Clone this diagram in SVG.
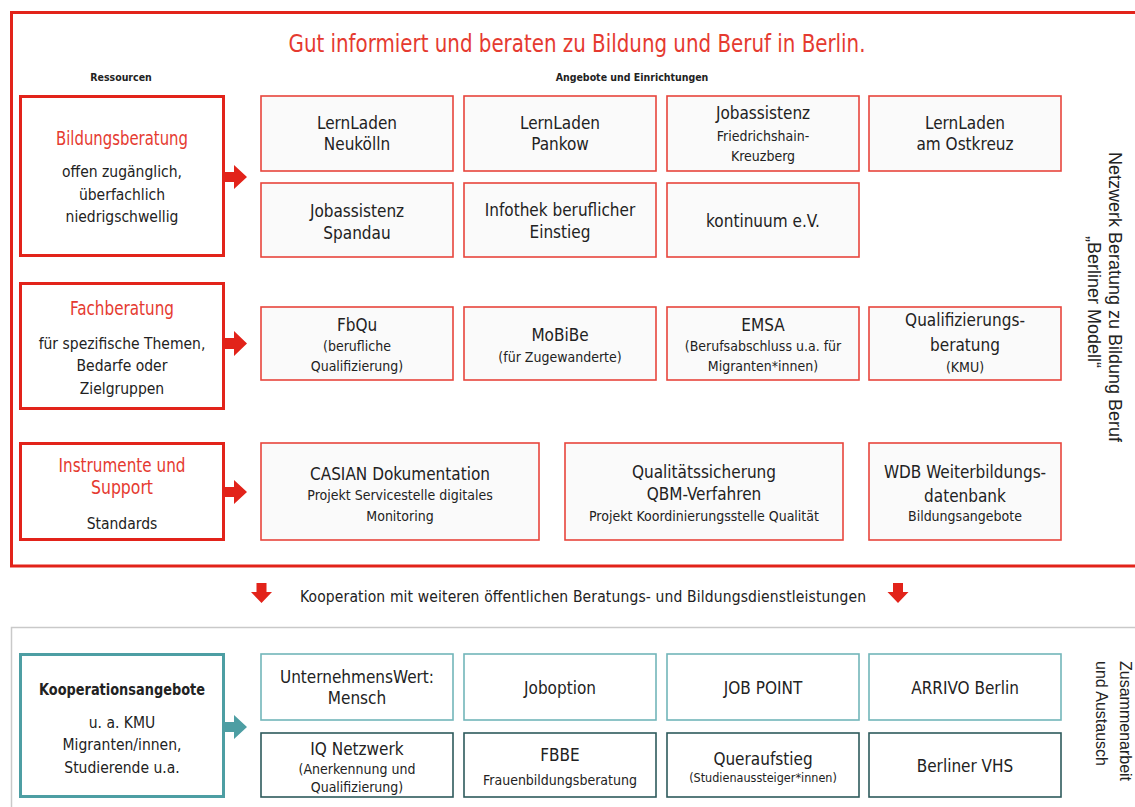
<svg xmlns="http://www.w3.org/2000/svg" width="1135" height="807" viewBox="0 0 1135 807">
<style>
text{font-family:"Liberation Sans Narrow","DejaVu Sans Condensed","Liberation Sans",sans-serif;fill:#222;text-anchor:middle}
.t{font-size:17px}
.s{font-size:14px}
.lt{font-size:19px;fill:#e53a30}
.lb{font-size:15.5px}
.hd{font-size:10.5px;font-weight:bold}
.vt{font-family:"Liberation Sans",Arial,sans-serif;font-size:18px;fill:#222}
.vz{font-family:"Liberation Sans",Arial,sans-serif;font-size:16px;fill:#222;text-anchor:start}
.rb{fill:#fafafa;stroke:#e8453c;stroke-width:1.6}
.lbx{fill:#fff;stroke:#e2231a;stroke-width:3}
.tl{fill:#fff;stroke:#72b6ba;stroke-width:1.6}
.td{fill:#fff;stroke:#2d5a5c;stroke-width:1.6}
.tk{fill:#fff;stroke:#4d9ea3;stroke-width:3}
.ra{fill:#e2231a}
.ta{fill:#4d9ea3}
</style>
<rect width="1135" height="807" fill="#fff"/>
<g id="frames">
<path d="M1140 12.5 H11.5 V566 H1140" fill="none" stroke="#e2231a" stroke-width="3"/>
<path d="M1140 627.5 H11.5 V812" fill="none" stroke="#c9c9c9" stroke-width="1.5"/>
</g>
<g id="title">
<text x="577" y="52" textLength="577" lengthAdjust="spacingAndGlyphs" style="font-size:25px;fill:#e53a30">Gut informiert und beraten zu Bildung und Beruf in Berlin.</text>
<text class="hd" x="121" y="81">Ressourcen</text>
<text class="hd" x="632" y="81">Angebote und Einrichtungen</text>
</g>
<g id="connectors">
<path class="ra" d="M224 172 H234 V165 L247 177 L234 189 V182 H224 Z"/>
<path class="ra" d="M224 338 H234 V331 L247 343.5 L234 356 V349 H224 Z"/>
<path class="ra" d="M224 487 H234 V480 L247 492 L234 504 V497 H224 Z"/>
<path class="ta" d="M224 722 H234 V715 L247 727 L234 739 V732 H224 Z"/>
<path class="ra" d="M256.5 583 H266.5 V592 H272 L261.5 603 L251 592 H256.5 Z"/>
<path class="ra" d="M893 583 H903 V592 H908.5 L898 603 L887.5 592 H893 Z"/>
</g>
<g id="n-bildungsberatung">
<rect class="lbx" x="20.5" y="96.5" width="203" height="159"/>
<text class="lt" x="122" y="145" textLength="132" lengthAdjust="spacingAndGlyphs">Bildungsberatung</text>
<text class="lb" x="122" y="177">offen zugänglich,</text>
<text class="lb" x="122" y="200">überfachlich</text>
<text class="lb" x="122" y="222">niedrigschwellig</text>
</g>
<g id="n-fachberatung">
<rect class="lbx" x="20.5" y="283.5" width="203" height="125"/>
<text class="lt" x="122" y="315" textLength="104" lengthAdjust="spacingAndGlyphs">Fachberatung</text>
<text class="lb" x="122" y="349">für spezifische  Themen,</text>
<text class="lb" x="122" y="371">Bedarfe oder</text>
<text class="lb" x="122" y="394">Zielgruppen</text>
</g>
<g id="n-instrumente">
<rect class="lbx" x="20.5" y="443.5" width="203" height="96"/>
<text class="lt" x="122" y="472" textLength="127" lengthAdjust="spacingAndGlyphs">Instrumente und</text>
<text class="lt" x="122" y="494" textLength="62" lengthAdjust="spacingAndGlyphs">Support</text>
<text class="lb" x="122" y="529">Standards</text>
</g>
<g id="n-lernladen-neukoelln">
<rect class="rb" x="261" y="96" width="192" height="75"/>
<text class="t" x="357" y="129">LernLaden</text>
<text class="t" x="357" y="150">Neukölln</text>
</g>
<g id="n-lernladen-pankow">
<rect class="rb" x="464" y="96" width="192" height="75"/>
<text class="t" x="560" y="129">LernLaden</text>
<text class="t" x="560" y="150">Pankow</text>
</g>
<g id="n-jobassistenz-fk">
<rect class="rb" x="667" y="96" width="192" height="75"/>
<text class="t" x="763" y="119">Jobassistenz</text>
<text class="s" x="763" y="141">Friedrichshain-</text>
<text class="s" x="763" y="161">Kreuzberg</text>
</g>
<g id="n-lernladen-ostkreuz">
<rect class="rb" x="869" y="96" width="192" height="75"/>
<text class="t" x="965" y="129">LernLaden</text>
<text class="t" x="965" y="150">am Ostkreuz</text>
</g>
<g id="n-jobassistenz-spandau">
<rect class="rb" x="261" y="183" width="192" height="74"/>
<text class="t" x="357" y="217">Jobassistenz</text>
<text class="t" x="357" y="239">Spandau</text>
</g>
<g id="n-infothek">
<rect class="rb" x="464" y="183" width="192" height="74"/>
<text class="t" x="560" y="216">Infothek beruflicher</text>
<text class="t" x="560" y="238">Einstieg</text>
</g>
<g id="n-kontinuum">
<rect class="rb" x="667" y="183" width="192" height="74"/>
<text class="t" x="763" y="227">kontinuum e.V.</text>
</g>
<g id="n-fbqu">
<rect class="rb" x="261" y="307" width="192" height="73"/>
<text class="t" x="357" y="331">FbQu</text>
<text class="s" x="357" y="351">(berufliche</text>
<text class="s" x="357" y="371">Qualifizierung)</text>
</g>
<g id="n-mobibe">
<rect class="rb" x="464" y="307" width="192" height="73"/>
<text class="t" x="560" y="341">MoBiBe</text>
<text class="s" x="560" y="362">(für Zugewanderte)</text>
</g>
<g id="n-emsa">
<rect class="rb" x="667" y="307" width="192" height="73"/>
<text class="t" x="763" y="331">EMSA</text>
<text class="s" x="763" y="351">(Berufsabschluss u.a. für</text>
<text class="s" x="763" y="371">Migranten*innen)</text>
</g>
<g id="n-qualifizierungsberatung">
<rect class="rb" x="869" y="307" width="192" height="73"/>
<text class="t" x="965" y="326">Qualifizierungs-</text>
<text class="t" x="965" y="351">beratung</text>
<text class="s" x="965" y="372">(KMU)</text>
</g>
<g id="n-casian">
<rect class="rb" x="261" y="443" width="278" height="97"/>
<text class="t" x="400" y="480">CASIAN Dokumentation</text>
<text class="s" x="400" y="500">Projekt Servicestelle digitales</text>
<text class="s" x="400" y="521">Monitoring</text>
</g>
<g id="n-qualitaet">
<rect class="rb" x="565" y="443" width="278" height="97"/>
<text class="t" x="704" y="478">Qualitätssicherung</text>
<text class="t" x="704" y="500">QBM-Verfahren</text>
<text class="s" x="704" y="521">Projekt Koordinierungsstelle Qualität</text>
</g>
<g id="n-wdb">
<rect class="rb" x="869" y="443" width="192" height="97"/>
<text class="t" x="965" y="478">WDB Weiterbildungs-</text>
<text class="t" x="965" y="502">datenbank</text>
<text class="s" x="965" y="521">Bildungsangebote</text>
</g>
<g id="n-netzwerk-label">
<text class="vt" transform="translate(1109,297) rotate(90)">Netzwerk Beratung zu Bildung Beruf</text>
<text class="vt" transform="translate(1088,302) rotate(90)">„Berliner Modell“</text>
</g>
<g id="n-kooperation-label">
<text x="583" y="602" textLength="566" lengthAdjust="spacing" style="font-size:15.5px">Kooperation mit weiteren öffentlichen Beratungs- und Bildungsdienstleistungen</text>
</g>
<g id="n-kooperationsangebote">
<rect class="tk" x="20.5" y="654.5" width="203" height="142"/>
<text x="122" y="695" textLength="166" lengthAdjust="spacingAndGlyphs" style="font-size:16px;font-weight:bold">Kooperationsangebote</text>
<text class="lb" x="122" y="728">u. a. KMU</text>
<text class="lb" x="122" y="750">Migranten/innen,</text>
<text class="lb" x="122" y="773">Studierende  u.a.</text>
</g>
<g id="n-unternehmenswert">
<rect class="tl" x="261" y="654" width="192" height="66"/>
<text class="t" x="357" y="683">UnternehmensWert:</text>
<text class="t" x="357" y="704">Mensch</text>
</g>
<g id="n-joboption">
<rect class="tl" x="464" y="654" width="192" height="66"/>
<text class="t" x="560" y="694">Joboption</text>
</g>
<g id="n-jobpoint">
<rect class="tl" x="667" y="654" width="192" height="66"/>
<text class="t" x="763" y="694">JOB POINT</text>
</g>
<g id="n-arrivo">
<rect class="tl" x="869" y="654" width="192" height="66"/>
<text class="t" x="965" y="694">ARRIVO Berlin</text>
</g>
<g id="n-iq">
<rect class="td" x="261" y="733" width="192" height="64"/>
<text class="t" x="357" y="755">IQ Netzwerk</text>
<text class="s" x="357" y="774">(Anerkennung und</text>
<text class="s" x="357" y="792">Qualifizierung)</text>
</g>
<g id="n-fbbe">
<rect class="td" x="464" y="733" width="192" height="64"/>
<text class="t" x="560" y="761">FBBE</text>
<text class="s" x="560" y="785">Frauenbildungsberatung</text>
</g>
<g id="n-queraufstieg">
<rect class="td" x="667" y="733" width="192" height="64"/>
<text class="t" x="763" y="765">Queraufstieg</text>
<text style="font-size:12.5px" x="763" y="782">(Studienaussteiger*innen)</text>
</g>
<g id="n-vhs">
<rect class="td" x="869" y="733" width="192" height="64"/>
<text class="t" x="965" y="772">Berliner  VHS</text>
</g>
<g id="n-zusammenarbeit-label">
<text class="vz" transform="translate(1120,661) rotate(90)">Zusammenarbeit</text>
<text class="vz" transform="translate(1096,661) rotate(90)">und Austausch</text>
</g>
</svg>
